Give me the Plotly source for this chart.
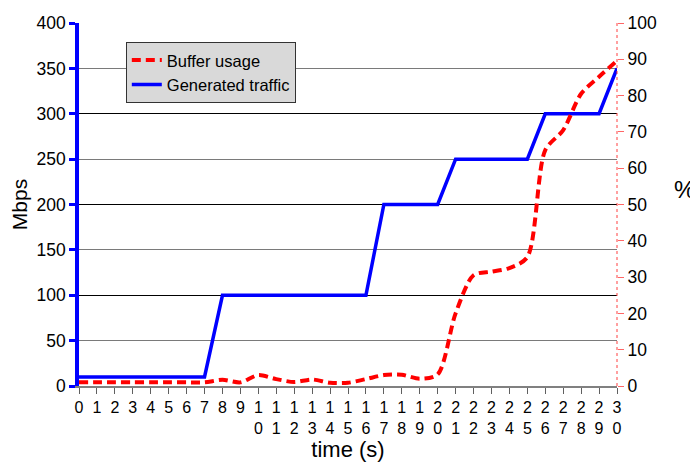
import plotly.graph_objects as go

time_s = list(range(31))
traffic_mbps = [10, 10, 10, 10, 10, 10, 10, 10, 100, 100, 100, 100, 100, 100, 100, 100, 100,
                200, 200, 200, 200, 250, 250, 250, 250, 250, 300, 300, 300, 300, 350]
buffer_pct = [1, 1, 1, 1, 1, 1, 1, 1, 1.7, 1.0, 3.0, 1.9, 1.1, 1.8, 0.9, 0.9, 1.9,
              3.0, 3.1, 2.0, 3.2, 20, 30.5, 31.5, 32.5, 35.5, 65, 70.5, 80.5, 85.2, 89.6]
x_tick_text = [str(t) if t < 10 else "<br>".join(str(t)) for t in time_s]
dark_grid_vals = [100, 200, 300, 400]

FONT = "Liberation Sans, Arial, sans-serif"

fig = go.Figure()
fig.add_trace(go.Scatter(
    x=time_s, y=traffic_mbps, name="Generated traffic", mode="lines",
    line=dict(color="#0000ff", width=3.5), yaxis="y"))
fig.add_trace(go.Scatter(
    x=time_s, y=buffer_pct, name="Buffer usage", mode="lines",
    line=dict(color="#ff0000", width=4, dash="9px,5px", shape="spline", smoothing=0.8),
    yaxis="y2"))

fig.update_layout(
    width=698, height=462,
    margin=dict(l=71, r=89, t=15, b=84, autoexpand=False),
    paper_bgcolor="white", plot_bgcolor="white",
    font=dict(family=FONT, size=17, color="black"),
    showlegend=True,
    legend=dict(
        x=0.087, y=0.948, xanchor="left", yanchor="top",
        bgcolor="#d9d9d9", bordercolor="#333333", borderwidth=1,
        font=dict(family=FONT, size=16.5), traceorder="reversed",
        tracegroupgap=0, itemwidth=30),
    xaxis=dict(
        range=[0, 30], tickvals=time_s, ticktext=x_tick_text,
        showgrid=False, zeroline=False, automargin=False,
        showline=True, linecolor="#808080", linewidth=1.5,
        ticks="outside", ticklen=6, tickcolor="#606060", tickwidth=1,
        tickfont=dict(family=FONT, size=16),
        title=dict(text="time (s)", font=dict(family=FONT, size=22), standoff=4)),
    yaxis=dict(
        range=[0, 400], dtick=50, showgrid=True, gridcolor="#7a7a7a", gridwidth=1.2,
        zeroline=False, showline=True, linecolor="#0000ff", linewidth=3.5,
        ticks="outside", ticklen=6, tickcolor="#0000ff", tickwidth=3, automargin=False,
        ticklabeloverflow="allow",
        tickfont=dict(family=FONT, size=17.5),
        title=dict(text="Mbps", font=dict(family=FONT, size=21), standoff=8)),
    yaxis2=dict(
        range=[0, 100], dtick=10, overlaying="y", side="right",
        showgrid=False, zeroline=False, showline=False, automargin=False,
        ticklabeloverflow="allow",
        ticks="outside", ticklen=6, tickcolor="#ff6666", tickwidth=1,
        tickfont=dict(family=FONT, size=17.5)),
    yaxis3=dict(
        range=[0, 400], tickvals=dark_grid_vals, overlaying="y", side="left",
        showgrid=True, gridcolor="#000000", gridwidth=1, showticklabels=False,
        ticks="", zeroline=False, showline=False, automargin=False),
    shapes=[dict(type="line", xref="paper", yref="paper", x0=1, x1=1, y0=0, y1=1,
                 line=dict(color="#ff4040", width=1, dash="dot"))],
    annotations=[dict(text="%", xref="paper", yref="paper", x=1.126, y=0.54,
                      showarrow=False, font=dict(family=FONT, size=24),
                      xanchor="center", yanchor="middle")],
)
# invisible helper trace so the dark-gridline axis is rendered
fig.add_trace(go.Scatter(x=[time_s[0]], y=[traffic_mbps[0]], yaxis="y3", mode="lines",
                         showlegend=False, hoverinfo="skip", line=dict(width=0)))

fig.write_html("out.html")
